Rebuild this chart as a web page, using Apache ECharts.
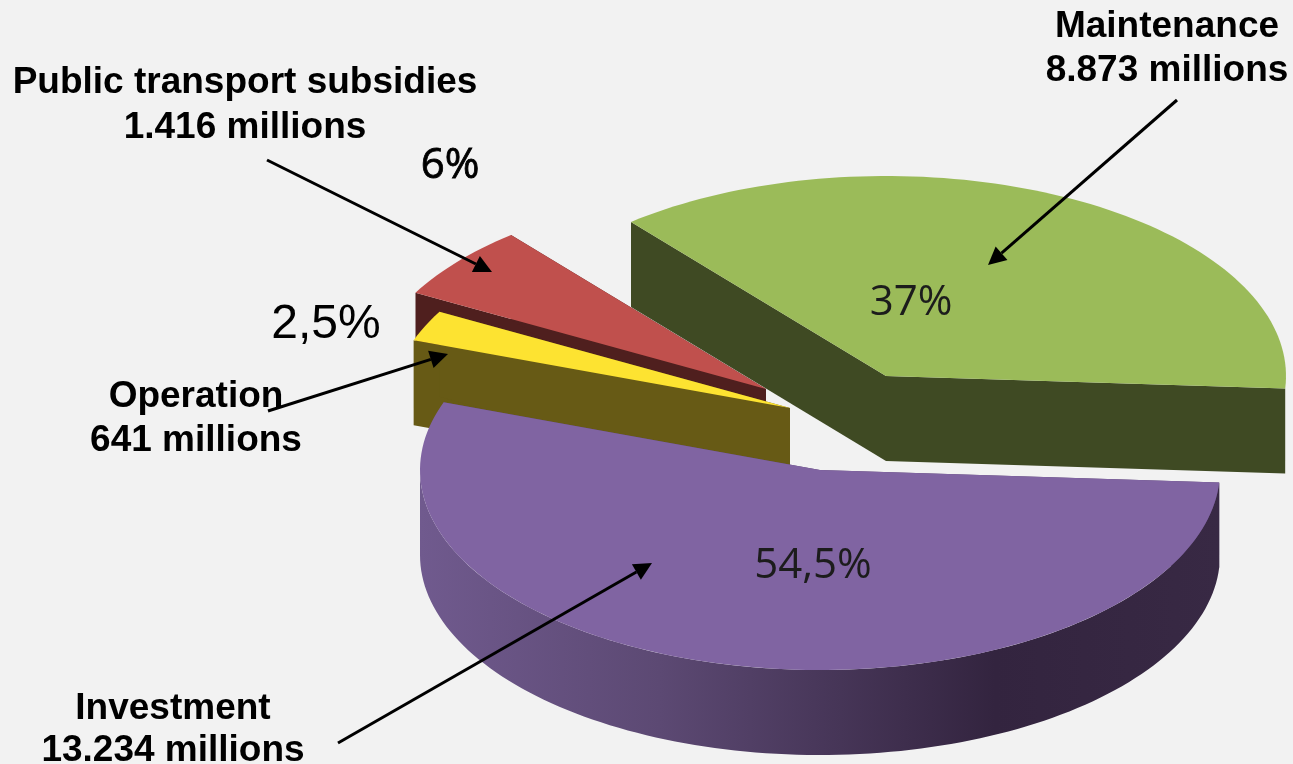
<!DOCTYPE html>
<html>
<head>
<meta charset="utf-8">
<style>html,body{margin:0;padding:0;background:#f2f2f2}#c{width:1293px;height:764px}</style>
<script src="https://cdn.jsdelivr.net/npm/echarts@6/dist/echarts.min.js"></script>
</head>
<body>
<div id="c"></div>
<script>
// Data, in pie order (clockwise on screen from the right-hand edge)
const categories = ['Investment', 'Operation', 'Public transport subsidies', 'Maintenance'];
const amounts = ['13.234 millions', '641 millions', '1.416 millions', '8.873 millions'];
const shares = [54.5, 2.5, 6, 37];
const shareLabels = ['54,5%', '2,5%', '6%', '37%'];

// Layout and style
const RX = 400, RY = 200, DEPTH = 85, START_DEG = 3.6;
const apexes = [[820, 470], [790, 408], [766, 389], [886, 376]];
const topColors = ['#8064A2', '#FDE331', '#C0504D', '#9BBB59'];
const sideColors = ['#5A4670', '#675A15', '#4F1F1E', '#3F4A23'];
const drawOrder = [3, 2, 1, 0];

const starts = [];
let acc = START_DEG;
shares.forEach(function (s) { starts.push(acc); acc += s * 3.6; });

function rimPoint(apex, deg) {
  const t = deg * Math.PI / 180;
  return [apex[0] + RX * Math.cos(t), apex[1] + RY * Math.sin(t)];
}
function arc(apex, a0, a1, dy) {
  const pts = [], n = Math.max(2, Math.ceil(Math.abs(a1 - a0) / 1.5));
  for (let i = 0; i <= n; i++) {
    const p = rimPoint(apex, a0 + (a1 - a0) * i / n);
    pts.push([p[0], p[1] + dy]);
  }
  return pts;
}
function cutFace(apex, deg, fill) {
  const p = rimPoint(apex, deg);
  return { type: 'polygon', silent: true, shape: { points: [apex, p, [p[0], p[1] + DEPTH], [apex[0], apex[1] + DEPTH]] }, style: { fill: fill } };
}
const rimGradient = new echarts.graphic.LinearGradient(0, 0, 1, 0, [
  { offset: 0, color: '#705A8E' },
  { offset: 0.3, color: '#5C4973' },
  { offset: 0.72, color: '#33243F' },
  { offset: 1, color: '#382944' }
]);

function renderSlice(params, api) {
  const idx = api.value(0), share = api.value(1);
  const a0 = starts[idx], a1 = a0 + share * 3.6, apex = apexes[idx];
  const children = [cutFace(apex, a0, sideColors[idx]), cutFace(apex, a1, sideColors[idx])];
  if (a0 < 180) {
    const end = Math.min(a1, 180);
    const rim = arc(apex, a0, end, 0).concat(arc(apex, end, a0, DEPTH));
    children.push({ type: 'polygon', silent: true, shape: { points: rim }, style: { fill: idx === 0 ? rimGradient : sideColors[idx] } });
  }
  children.push({ type: 'polygon', silent: true, shape: { points: [apex].concat(arc(apex, a0, a1, 0)) }, style: { fill: topColors[idx] } });
  return { type: 'group', children: children };
}

// Annotations
const BOLD = 'bold 37px "Liberation Sans", Arial, sans-serif';
const callouts = [
  { i: 3, x: 1167, y: 27, dy: 44 },
  { i: 2, x: 245, y: 83, dy: 45 },
  { i: 1, x: 196, y: 397, dy: 44 },
  { i: 0, x: 173, y: 709, dy: 42 }
];
const arrows = [
  [[1177, 100], [988, 265]],
  [[267, 160], [492, 272]],
  [[268, 411], [448, 354]],
  [[338, 743], [652, 563]]
];
const pctLabels = [
  { i: 0, x: 813, y: 566, font: '42px "Open Sans", sans-serif', fill: '#1c1c1c', stroke: 0 },
  { i: 3, x: 911, y: 303, font: '42px "Open Sans", sans-serif', fill: '#1c1c1c', stroke: 0 },
  { i: 2, x: 450, y: 166, font: '42px "Open Sans", sans-serif', fill: '#000', stroke: 0.8 },
  { i: 1, x: 326, y: 325, font: '48px "Liberation Sans", Arial, sans-serif', fill: '#000', stroke: 0 }
];

function textEl(text, x, y, font, fill, stroke) {
  const style = { text: text, x: x, y: y, font: font, fill: fill || '#000', textAlign: 'center', textVerticalAlign: 'middle' };
  if (stroke) { style.stroke = fill; style.lineWidth = stroke; }
  return { type: 'text', silent: true, z: 20, style: style };
}
const graphics = [];
callouts.forEach(function (c) {
  graphics.push(textEl(categories[c.i], c.x, c.y, BOLD));
  graphics.push(textEl(amounts[c.i], c.x, c.y + c.dy, BOLD));
});
pctLabels.forEach(function (p) { graphics.push(textEl(shareLabels[p.i], p.x, p.y, p.font, p.fill, p.stroke)); });
arrows.forEach(function (a) {
  const tail = a[0], tip = a[1], L = 18, W = 9;
  const d = Math.hypot(tip[0] - tail[0], tip[1] - tail[1]);
  const ux = (tip[0] - tail[0]) / d, uy = (tip[1] - tail[1]) / d;
  const bx = tip[0] - ux * L, by = tip[1] - uy * L;
  graphics.push({ type: 'line', silent: true, z: 15, shape: { x1: tail[0], y1: tail[1], x2: bx, y2: by }, style: { stroke: '#000', lineWidth: 3 } });
  graphics.push({ type: 'polygon', silent: true, z: 15, shape: { points: [tip, [bx - uy * W, by + ux * W], [bx + uy * W, by - ux * W]] }, style: { fill: '#000' } });
});

const chart = echarts.init(document.getElementById('c'), null, { renderer: 'canvas' });
chart.setOption({
  animation: false,
  backgroundColor: '#F2F2F2',
  series: [{
    type: 'custom',
    coordinateSystem: 'none',
    renderItem: renderSlice,
    silent: true,
    data: drawOrder.map(function (i) { return [i, shares[i]]; })
  }],
  graphic: { elements: graphics }
});
</script>
</body>
</html>
